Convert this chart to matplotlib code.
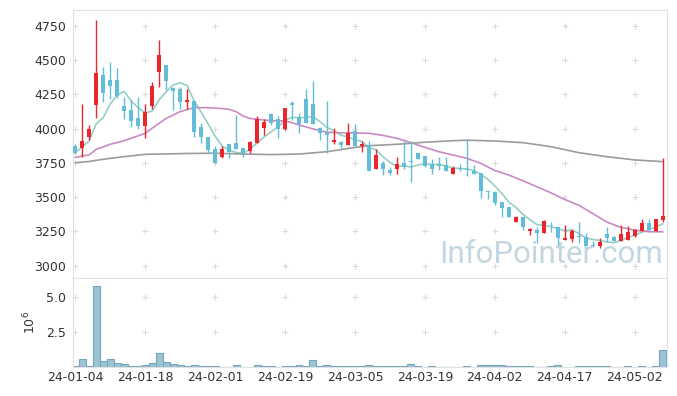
import numpy as np
import pandas as pd
from matplotlib import pyplot as plt
from matplotlib.ticker import FixedLocator, FuncFormatter

# trading days (KRX holidays removed)
holidays = ['2024-02-09', '2024-02-12', '2024-03-01', '2024-04-10', '2024-05-01', '2024-05-06']
dates = pd.bdate_range('2024-01-04', '2024-05-09').drop(pd.to_datetime(holidays))

opens = [3873, 3861, 3936, 4172, 4390, 4354, 4354, 4164, 4135, 4079,
         4021, 4164, 4415, 4463, 4296, 4288, 4196, 4201, 4014, 3941,
         3848, 3795, 3887, 3897, 3858, 3839, 3897, 4006, 4106, 4070,
         3997, 4186, 4087, 4216, 4179, 4004, 3965, 3902, 3902, 3882,
         3982, 3873, 3880, 3708, 3751, 3698, 3708, 3746, 3766, 3819,
         3800, 3744, 3739, 3734, 3671, 3712, 3707, 3688, 3673, 3547,
         3535, 3464, 3426, 3319, 3353, 3251, 3260, 3241, 3321, 3280,
         3187, 3195, 3217, 3212, 3151, 3146, 3231, 3207, 3183, 3190,
         3217, 3256, 3309, 3256, 3333]
highs = [3885, 4177, 4026, 4791, 4446, 4483, 4439, 4228, 4208, 4228,
         4177, 4337, 4646, 4463, 4300, 4300, 4291, 4201, 4038, 3941,
         3873, 3875, 3887, 4096, 3858, 3909, 4091, 4070, 4111, 4091,
         4150, 4203, 4116, 4286, 4347, 4014, 4201, 4002, 3909, 4038,
         4031, 3911, 3911, 3848, 3763, 3722, 3794, 3909, 3911, 3819,
         3800, 3775, 3794, 3794, 3729, 3741, 3916, 3732, 3673, 3547,
         3547, 3464, 3426, 3365, 3353, 3272, 3285, 3333, 3321, 3285,
         3294, 3265, 3319, 3236, 3180, 3200, 3285, 3219, 3297, 3292,
         3268, 3338, 3338, 3340, 3785]
lows = [3815, 3795, 3916, 4074, 4196, 4213, 4220, 4067, 4014, 3994,
        3934, 4142, 4305, 4281, 4135, 4142, 4142, 3941, 3892, 3819,
        3751, 3783, 3788, 3851, 3790, 3824, 3897, 3953, 4026, 3934,
        3990, 4062, 3965, 4043, 4036, 3917, 3819, 3887, 3856, 3882,
        3875, 3827, 3693, 3708, 3659, 3659, 3669, 3702, 3607, 3778,
        3722, 3666, 3698, 3690, 3671, 3690, 3654, 3671, 3491, 3486,
        3445, 3357, 3357, 3319, 3258, 3222, 3164, 3241, 3248, 3144,
        3187, 3170, 3164, 3131, 3134, 3127, 3173, 3178, 3183, 3190,
        3207, 3256, 3260, 3256, 3321]
closes = [3824, 3909, 3997, 4407, 4262, 4313, 4240, 4130, 4057, 4021,
          4118, 4310, 4536, 4349, 4276, 4196, 4208, 3977, 3941, 3844,
          3751, 3848, 3831, 3851, 3819, 3902, 4070, 4048, 4038, 3999,
          4150, 4172, 4033, 4043, 4036, 3970, 3955, 3917, 3880, 3968,
          3875, 3887, 3693, 3807, 3708, 3673, 3741, 3717, 3758, 3778,
          3727, 3708, 3729, 3690, 3712, 3703, 3695, 3671, 3547, 3537,
          3460, 3423, 3357, 3353, 3285, 3268, 3241, 3324, 3316, 3202,
          3202, 3256, 3209, 3146, 3144, 3170, 3202, 3178, 3229, 3246,
          3260, 3309, 3260, 3338, 3363]
volumes = [0.05, 0.6, 0.1, 5.74, 0.45, 0.6, 0.3, 0.24, 0.1, 0.1,
           0.17, 0.3, 1.02, 0.38, 0.24, 0.17, 0.1, 0.17, 0.1, 0.1,
           0.1, 0.03, 0.03, 0.17, 0.03, 0.03, 0.17, 0.1, 0.1, 0.03,
           0.1, 0.1, 0.17, 0.1, 0.52, 0.1, 0.17, 0.05, 0.05, 0.05,
           0.05, 0.05, 0.12, 0.05, 0.05, 0.05, 0.05, 0.05, 0.2, 0.07,
           0.01, 0.05, 0.01, 0.01, 0.01, 0.01, 0.05, 0.01, 0.12, 0.12,
           0.12, 0.12, 0.05, 0.05, 0.05, 0.05, 0.01, 0.01, 0.05, 0.12,
           0.01, 0.01, 0.05, 0.05, 0.05, 0.05, 0.05, 0.01, 0.01, 0.05,
           0.01, 0.05, 0.01, 0.05, 1.24]

# longer moving averages (index, value)
ma20_idx = [0, 1, 2, 3, 5, 7, 10, 11, 13, 15, 17, 19, 21, 22, 23, 24, 25, 26, 28, 30,
            31, 32, 34, 36, 38, 40, 42, 44, 46, 48, 50, 52, 54, 56, 58, 60, 62, 64,
            66, 68, 70, 72, 74, 76, 78, 80, 82, 84]
ma20_val = [3790, 3800, 3808, 3848, 3885, 3911, 3965, 4002, 4074, 4123, 4152, 4152,
            4145, 4140, 4123, 4091, 4074, 4067, 4057, 4055, 4043, 4026, 3997, 3973,
            3968, 3968, 3965, 3950, 3929, 3897, 3863, 3831, 3807, 3783, 3746, 3694,
            3661, 3620, 3576, 3532, 3483, 3442, 3381, 3319, 3280, 3260, 3248, 3248]
ma60_idx = [0, 2, 4, 7, 10, 13, 16, 20, 24, 28, 32, 36, 40, 42, 46, 50, 54, 56, 60,
            64, 68, 72, 76, 80, 84]
ma60_val = [3751, 3760, 3776, 3795, 3812, 3815, 3818, 3820, 3814, 3810, 3814, 3831,
            3862, 3875, 3885, 3900, 3911, 3915, 3909, 3897, 3868, 3824, 3795, 3771, 3759]

red = '#e8262b'
blue = '#62bdd8'

x = np.arange(len(dates))
o = np.array(opens)
c = np.array(closes)
up = c >= o
ma5 = pd.Series(closes).rolling(5, min_periods=1).mean()

fig = plt.figure(figsize=(6.77, 3.96), dpi=100)
ax = fig.add_axes([0.108, 0.299, 0.877, 0.676])
axv = fig.add_axes([0.108, 0.073, 0.877, 0.226], sharex=ax)

colors = np.where(up, red, blue)
ax.vlines(x, lows, highs, colors=colors, linewidth=1.0, zorder=3)
ax.bar(x, np.maximum(np.abs(c - o), 6), bottom=np.minimum(o, c), width=0.6,
       color=colors, linewidth=0, zorder=4)

ax.plot(x, ma5, color='#93d0c3', linewidth=1.2, zorder=2)
ax.plot(ma20_idx, ma20_val, color='#c98ac2', linewidth=1.2, zorder=2)
ax.plot(ma60_idx, ma60_val, color='#9c9c9c', linewidth=1.2, zorder=2)

axv.bar(x, np.array(volumes) * 1e6, width=1.0, color='#9cc3d4',
        edgecolor='#73a5bd', linewidth=0.8)

xticks = list(range(0, 85, 10))
yticks = list(range(3000, 4751, 250))
vticks = [2.5e6, 5.0e6]

for a, yt in ((ax, yticks), (axv, vticks)):
    gx, gy = np.meshgrid(xticks, yt)
    a.plot(gx.ravel(), gy.ravel(), '+', color='#dcdcdc', ms=4, mew=0.8, zorder=1)
    for s in a.spines.values():
        s.set_color('#e2e2e2')
    a.tick_params(length=0, labelsize=9, colors='#333333', pad=5)

ax.set_xlim(-0.3, 84.6)
ax.set_ylim(2914, 4864)
ax.set_yticks(yticks)
ax.tick_params(labelbottom=False)

axv.set_ylim(0, 6.37e6)
axv.yaxis.set_major_locator(FixedLocator(vticks))
axv.yaxis.set_major_formatter(FuncFormatter(lambda v, p: '%.1f' % (v / 1e6)))
axv.set_ylabel('$10^{6}$', fontsize=9, color='#333333', labelpad=6)
axv.set_xticks(xticks)
axv.set_xticklabels([dates[i].strftime('%y-%m-%d') for i in xticks])
axv.tick_params(axis='x', pad=3)

# watermark
ax.text(0.805, 0.088, 'InfoPointer.com', transform=ax.transAxes, ha='center',
        va='center', fontsize=22.5, color='#c3d7e3', fontweight='normal',
        family=['Roboto', 'DejaVu Sans'], zorder=5)

fig.savefig('out.png')
